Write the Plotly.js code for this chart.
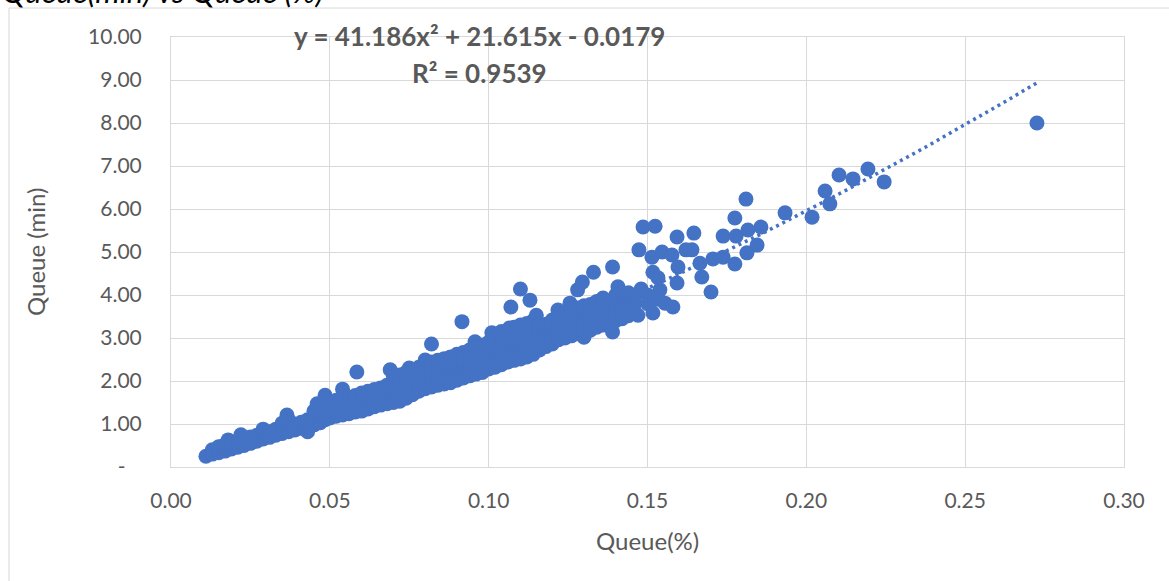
<!DOCTYPE html>
<html><head><meta charset="utf-8">
<script src="https://cdn.plot.ly/plotly-3.0.1.min.js"></script>
<style>html,body{margin:0;padding:0;background:#fff;}#chart{width:1169px;height:581px;}</style>
</head><body><div id="chart"></div>
<script>
const queuePct = [
0.011, 0.013,0.013, 0.015,0.015, 0.017,0.017, 0.018, 0.019,0.019, 0.021,0.021, 0.022, 0.023,0.023, 0.025,0.025, 0.027,0.027,
0.029,0.029,0.029, 0.031,0.031, 0.033,0.033, 0.035,0.035,0.035, 0.0365, 0.037,0.037,0.037, 0.039,0.039, 0.041,0.041,
0.043,0.043,0.043, 0.045,0.045,0.045, 0.046, 0.047,0.047,0.047, 0.0485,0.0485,0.0485,0.0485, 0.050,0.050,0.050, 0.052,0.052,0.052,
0.054,0.054,0.054,0.054, 0.056,0.056,0.056, 0.058,0.058,0.058, 0.0585, 0.060,0.060,0.060, 0.062,0.062,0.062,
0.064,0.064,0.064, 0.066,0.066,0.066, 0.068,0.068,0.068, 0.069, 0.070,0.070,0.070,0.070, 0.072,0.072,0.072,0.072,
0.074,0.074,0.074,0.074, 0.075, 0.076,0.076,0.076,0.076, 0.078,0.078,0.078,0.078, 0.080,0.080,0.080,0.080,0.080,
0.082,0.082,0.082,0.082,0.082, 0.084,0.084,0.084,0.084, 0.086,0.086,0.086,0.086, 0.088,0.088,0.088,0.088,
0.090,0.090,0.090,0.090, 0.0916, 0.092,0.092,0.092,0.092, 0.094,0.094,0.094,0.094, 0.0957,
0.096,0.096,0.096,0.096, 0.098,0.098,0.098,0.098, 0.100,0.100,0.100,0.100, 0.101, 0.102,0.102,0.102,0.102,
0.104,0.104,0.104,0.104,0.104, 0.106,0.106,0.106,0.106, 0.1065, 0.107, 0.108,0.108,0.108,0.108,0.108,
0.110,0.110,0.110,0.110,0.110,0.110, 0.112,0.112,0.112,0.112,0.112, 0.113, 0.114,0.114,0.114,0.114,0.114, 0.115,
0.116,0.116,0.116,0.116, 0.118,0.118,0.118,0.118, 0.120,0.120,0.120,0.120, 0.1218, 0.122,0.122,0.122,0.122,
0.124,0.124,0.124,0.124, 0.1256, 0.126,0.126,0.126,0.126, 0.128,0.128,0.128,0.128,0.128, 0.1295,
0.130,0.130,0.130,0.130,0.130, 0.132,0.132,0.132,0.132, 0.133, 0.134,0.134,0.134,0.134, 0.136,0.136,0.136,0.136,
0.138,0.138,0.138, 0.139,0.139, 0.140,0.140,0.140,0.140, 0.1407, 0.142,0.142,0.142, 0.144,0.144,0.144,0.144, 0.146,0.146,0.146,
0.147,0.148,0.1473,0.1486,0.150,0.150,0.1514,0.1517,0.1517,0.1524,0.153,0.1533,0.1539,0.1546,0.1555,
0.1577,0.158,0.1593,0.1593,0.1596,0.1621,0.164,0.1646,0.1665,0.1671,0.170,0.1706,0.1738,0.1738,
0.1775,0.1775,0.1779,0.181,0.1813,0.1816,0.1845,0.1857,0.1933,0.2018,0.2059,0.2074,0.2103,0.2147,0.2194,0.2245,0.2726
];
const queueMin = [
0.25, 0.30,0.40, 0.33,0.47, 0.37,0.52, 0.63, 0.42,0.56, 0.46,0.60, 0.75, 0.50,0.64, 0.55,0.70, 0.60,0.74,
0.65,0.78,0.88, 0.69,0.82, 0.74,0.88, 0.78,0.92,1.02, 1.21, 0.82,0.98,1.10, 0.86,1.00, 0.90,1.04,
0.82,0.95,1.10, 0.98,1.15,1.30, 1.47, 1.03,1.20,1.38, 1.10,1.28,1.50,1.67, 1.14,1.32,1.52, 1.18,1.36,1.55,
1.21,1.40,1.60,1.81, 1.24,1.42,1.62, 1.28,1.46,1.66, 2.21, 1.30,1.50,1.72, 1.35,1.55,1.76,
1.40,1.60,1.80, 1.44,1.64,1.84, 1.47,1.68,1.90, 2.26, 1.50,1.72,1.95,2.10, 1.53,1.76,2.00,2.14,
1.60,1.82,2.05,2.20, 2.30, 1.68,1.88,2.10,2.25, 1.76,1.95,2.15,2.32, 1.82,2.02,2.22,2.40,2.49,
1.86,2.06,2.26,2.44,2.86, 1.90,2.10,2.30,2.48, 1.93,2.13,2.33,2.52, 1.96,2.16,2.36,2.56,
2.02,2.22,2.42,2.62, 3.38, 2.07,2.27,2.47,2.66, 2.12,2.32,2.52,2.72, 2.91,
2.16,2.36,2.56,2.78, 2.20,2.40,2.62,2.84, 2.28,2.48,2.68,2.90, 3.12, 2.32,2.52,2.72,2.94,
2.38,2.58,2.78,3.00,3.15, 2.44,2.64,2.84,3.04, 3.23, 3.72, 2.48,2.68,2.88,3.08,3.25,
2.51,2.72,2.92,3.12,3.30,4.14, 2.56,2.76,2.96,3.16,3.34, 3.88, 2.62,2.82,3.02,3.22,3.40, 3.53,
2.72,2.92,3.12,3.30, 2.80,3.00,3.18,3.32, 2.86,3.05,3.25,3.42, 3.65, 2.96,3.15,3.35,3.50,
3.00,3.20,3.40,3.58, 3.81, 3.05,3.25,3.45,3.65, 3.10,3.30,3.50,3.70,4.12, 4.30,
3.02,3.15,3.35,3.55,3.75, 3.18,3.38,3.58,3.78, 4.53, 3.25,3.45,3.65,3.85, 3.30,3.50,3.70,3.93,
3.35,3.55,3.75, 3.14,4.65, 3.40,3.60,3.80,4.00, 4.19, 3.45,3.65,3.85, 3.52,3.72,3.95,4.05, 3.60,3.80,3.98,
3.53,4.14,5.05,5.58,3.80,4.00,4.88,3.58,4.53,5.60,3.90,4.40,4.12,5.00,3.81,
4.93,3.72,4.28,5.35,4.65,5.05,5.05,5.44,4.74,4.42,4.07,4.84,4.88,5.37,
4.72,5.79,5.37,6.23,4.98,5.51,5.16,5.58,5.91,5.81,6.42,6.12,6.79,6.70,6.93,6.63,8.00
];
const trendCoef = [41.186, 21.615, -0.0179];
const equationText = 'y = 41.186x² + 21.615x - 0.0179';
const r2Text = 'R² = 0.9539';
const xTickVals = [0, 0.05, 0.10, 0.15, 0.20, 0.25, 0.30];
const xTickText = ['0.00', '0.05', '0.10', '0.15', '0.20', '0.25', '0.30'];
const yTickVals = [0, 1, 2, 3, 4, 5, 6, 7, 8, 9, 10];
const yTickText = ['-\u00a0\u00a0\u00a0', '1.00', '2.00', '3.00', '4.00', '5.00', '6.00', '7.00', '8.00', '9.00', '10.00'];

const xMin = Math.min(...queuePct), xMax = Math.max(...queuePct);
const trendX = [], trendY = [];
for (let i = 0; i <= 120; i++) {
  const x = xMin + (xMax - xMin) * i / 120;
  trendX.push(x);
  trendY.push(trendCoef[0] * x * x + trendCoef[1] * x + trendCoef[2]);
}

const blue = '#4472C4';
const grey = '#595959';
const gridC = '#d9d9d9';
const traces = [
  {x: queuePct, y: queueMin, type: 'scatter', mode: 'markers',
   marker: {color: blue, size: 15, line: {width: 0}}, hoverinfo: 'x+y'},
  {x: trendX, y: trendY, type: 'scatter', mode: 'lines',
   line: {color: blue, width: 3.5, dash: '3px,4px'}, hoverinfo: 'skip'}
];
const axisCommon = {
  showgrid: true, gridcolor: gridC, gridwidth: 1,
  showline: true, linecolor: gridC, linewidth: 1, mirror: true,
  zeroline: false, ticks: '', tickfont: {family: 'Lato', size: 21, color: grey},
  tickmode: 'array'
};
const layout = {
  width: 1169, height: 581,
  margin: {l: 171, r: 45, t: 37, b: 114},
  paper_bgcolor: '#ffffff', plot_bgcolor: '#ffffff',
  showlegend: false,
  font: {family: 'Lato', color: grey},
  xaxis: Object.assign({}, axisCommon, {range: [0, 0.30], tickvals: xTickVals, ticktext: xTickText, ticklabelstandoff: 15}),
  yaxis: Object.assign({}, axisCommon, {range: [0, 10], tickvals: yTickVals, ticktext: yTickText, ticklabelstandoff: 24}),
  shapes: [
    {type: 'rect', xref: 'paper', yref: 'paper', x0: -0.170, x1: 1.2, y0: -0.5, y1: 1.0674,
     line: {color: gridC, width: 1}, fillcolor: 'rgba(0,0,0,0)', layer: 'below'}
  ],
  annotations: [
    {text: 'Queue(min) vs Queue (%)', xref: 'paper', yref: 'paper', x: -0.1794, y: 1.058,
     xanchor: 'left', yanchor: 'bottom', showarrow: false,
     font: {family: 'Lato', size: 31, style: 'italic', color: '#000000'}},
    {text: equationText, xref: 'paper', yref: 'paper', x: 0.3242, y: 1.003,
     xanchor: 'center', yanchor: 'middle', showarrow: false,
     font: {family: 'Lato', size: 26, weight: 'bold', color: grey}},
    {text: r2Text, xref: 'paper', yref: 'paper', x: 0.3242, y: 0.917,
     xanchor: 'center', yanchor: 'middle', showarrow: false,
     font: {family: 'Lato', size: 26, weight: 'bold', color: grey}},
    {text: 'Queue(%)', xref: 'paper', yref: 'paper', x: 0.5, y: -0.172,
     xanchor: 'center', yanchor: 'middle', showarrow: false,
     font: {family: 'Lato', size: 24, color: grey}},
    {text: 'Queue (min)', xref: 'paper', yref: 'paper', x: -0.1427, y: 0.5,
     xanchor: 'center', yanchor: 'middle', textangle: -90, showarrow: false,
     font: {family: 'Lato', size: 24, color: grey}}
  ]
};
Plotly.newPlot('chart', traces, layout, {displayModeBar: false, staticPlot: true});
</script>
</body></html>
